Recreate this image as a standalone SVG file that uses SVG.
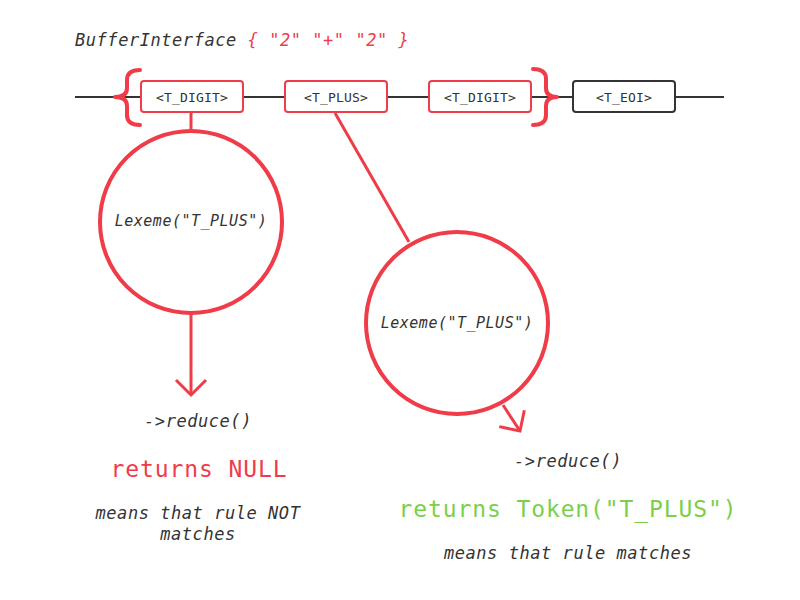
<svg xmlns="http://www.w3.org/2000/svg" width="800" height="600" viewBox="0 0 800 600">
<style>
.t{font-family:"DejaVu Sans Mono","Liberation Mono",monospace;fill:#333}
.it{font-style:italic;font-size:17px;letter-spacing:0.55px}
.red{fill:#ef3c48}
.grn{fill:#7ccf48}
.box{fill:#fff;stroke-width:2}
.rbox{stroke:#ef3c48}
.dbox{stroke:#333}
.bt{font-size:13px;letter-spacing:0.2px;text-anchor:middle}
.lex{font-style:italic;font-size:15px;letter-spacing:0.5px;text-anchor:middle}
.big{font-size:23px;letter-spacing:0.9px;text-anchor:middle}
.c{text-anchor:middle}
.circ{fill:#fff;stroke:#ef3c48;stroke-width:4}
.rl{stroke:#ef3c48;stroke-width:3;fill:none}
.brace{stroke:#ef3c48;stroke-width:4;fill:none;stroke-linecap:round;stroke-linejoin:round}
</style>
<defs>
<marker id="chev" markerUnits="userSpaceOnUse" viewBox="-17 -17 20 34" refX="0" refY="0" markerWidth="20" markerHeight="34" orient="auto">
<path d="M-15,-15 L0,0 L-15,15" fill="none" stroke="#ef3c48" stroke-width="3"/>
</marker>
</defs>
<rect width="800" height="600" fill="#fff"/>
<text class="t it" x="75" y="46">BufferInterface <tspan class="red">{ "2" "+" "2" }</tspan></text>
<g id="connectors">
<line x1="75" y1="97" x2="724" y2="97" stroke="#333" stroke-width="2"/>
<line class="rl" x1="191" y1="113" x2="191" y2="131"/>
<line class="rl" x1="335" y1="113" x2="409" y2="242"/>
<line class="rl" x1="191" y1="313" x2="191" y2="395" marker-end="url(#chev)"/>
<line class="rl" x1="503" y1="405" x2="520" y2="431" marker-end="url(#chev)"/>
</g>
<g id="braces">
<path class="brace" d="M140,70 Q127,70 127,80 L127,88 Q127,97 115,97 Q127,97 127,106 L127,115 Q127,125 140,125"/>
<path class="brace" d="M533,69 Q546,69 546,79 L546,88 Q546,97 557,97 Q546,97 546,106 L546,115 Q546,125 533,125"/>
</g>
<g id="tok1"><rect class="box rbox" x="141" y="81" width="102" height="31" rx="3"/><text class="t bt" x="192" y="101.5">&lt;T_DIGIT&gt;</text></g>
<g id="tok2"><rect class="box rbox" x="285" y="81" width="102" height="31" rx="3"/><text class="t bt" x="336" y="101.5">&lt;T_PLUS&gt;</text></g>
<g id="tok3"><rect class="box rbox" x="429" y="81" width="102" height="31" rx="3"/><text class="t bt" x="480" y="101.5">&lt;T_DIGIT&gt;</text></g>
<g id="tok4"><rect class="box dbox" x="573" y="81" width="102" height="31" rx="3"/><text class="t bt" x="624" y="101.5">&lt;T_EOI&gt;</text></g>
<g id="lex1"><circle class="circ" cx="191" cy="222" r="91"/><text class="t lex" x="191" y="226">Lexeme("T_PLUS")</text></g>
<g id="lex2"><circle class="circ" cx="457" cy="323" r="91"/><text class="t lex" x="457" y="328">Lexeme("T_PLUS")</text></g>
<g id="res1">
<text class="t it c" x="198" y="427">-&gt;reduce()</text>
<text class="t big red" x="199" y="477">returns NULL</text>
<text class="t it c" x="198" y="519">means that rule NOT</text>
<text class="t it c" x="198" y="540">matches</text>
</g>
<g id="res2">
<text class="t it c" x="568" y="467">-&gt;reduce()</text>
<text class="t big grn" x="568" y="517">returns Token("T_PLUS")</text>
<text class="t it c" x="568" y="559">means that rule matches</text>
</g>
</svg>
